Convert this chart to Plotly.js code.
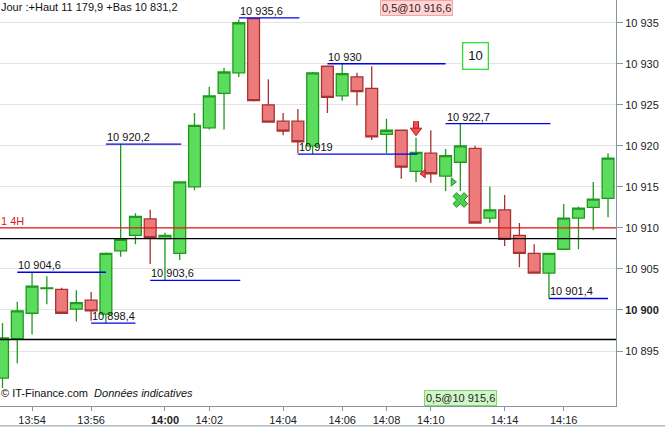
<!DOCTYPE html>
<html>
<head>
<meta charset="utf-8">
<script src="https://cdn.plot.ly/plotly-3.0.1.min.js"></script>
<style>
  html, body { margin: 0; padding: 0; background: #fff; }
  #chart { width: 665px; height: 427px; }
</style>
</head>
<body>
<div id="chart"></div>
<script>
// 30-second candles, numbered along the session
const candle = [0,1,2,3,4,5,6,7,8,9,10,11,12,13,14,15,16,17,18,19,20,
                21,22,23,24,25,26,27,28,29,30,31,32,33,34,35,36,37,38,39,40,41];
const open  = [10891.7,10896.5,10899.6,10902.6,10902.5,10900.1,10901.2,10899.5,10907.2,10909.1,
               10911.1,10908.7,10906.9,10915.0,10922.2,10926.4,10928.9,10935.5,10925.0,10923.0,
               10923.0,10920.0,10929.7,10926.1,10928.4,10927.0,10921.4,10921.9,10916.9,10919.1,
               10916.3,10918.0,10919.7,10911.2,10912.2,10909.1,10906.9,10904.5,10907.4,10911.2,
               10912.5,10913.6];
const high  = [10898.4,10901.0,10904.6,10904.1,10902.7,10902.4,10902.2,10907.0,10920.2,10911.8,
               10912.2,10909.4,10915.7,10924.0,10927.2,10929.5,10935.4,10935.6,10928.1,10924.0,
               10924.5,10929.0,10929.8,10930.0,10928.9,10929.7,10923.3,10922.0,10921.0,10921.9,
               10919.6,10922.7,10920.0,10915.0,10914.0,10910.6,10908.0,10906.9,10912.9,10912.6,
               10915.6,10919.1];
const low   = [10890.5,10893.5,10897.0,10900.7,10899.5,10898.6,10898.7,10898.4,10906.5,10908.0,
               10905.6,10903.6,10906.1,10914.6,10922.0,10922.0,10928.4,10925.4,10922.8,10921.3,
               10919.1,10919.0,10924.0,10925.5,10924.9,10920.7,10919.1,10916.0,10915.6,10915.5,
               10914.5,10914.5,10910.6,10910.6,10907.8,10905.2,10904.4,10901.4,10907.4,10907.4,
               10909.7,10911.3];
const close = [10896.6,10899.9,10902.9,10902.7,10899.6,10900.9,10899.9,10906.9,10908.6,10911.4,
               10908.8,10909.1,10915.6,10922.5,10926.1,10929.0,10935.0,10925.5,10922.9,10921.8,
               10920.5,10928.9,10925.9,10928.8,10926.6,10921.1,10921.9,10917.4,10919.2,10916.6,
               10918.8,10920.0,10910.6,10912.2,10908.6,10906.9,10904.5,10906.9,10911.2,10912.4,
               10913.5,10918.5];

// time labels and the candle they sit under
const timeTickCandle = [2, 6, 11, 14, 19, 23, 26, 29, 34, 38];
const timeTickText   = ['13:54','13:56','<b>14:00</b>','14:02','14:04','14:06','14:08','14:10','14:14','14:16'];

// price scale
const priceTicks = [10895, 10900, 10905, 10910, 10915, 10920, 10925, 10930, 10935];
const priceTickText = ['10 895','<b>10 900</b>','10 905','10 910','10 915','10 920','10 925','10 930','10 935'];

// swing highs / lows, with the candle span of each marker line
const swingLevel = [10904.6, 10920.2, 10935.6, 10930, 10922.7, 10898.4, 10903.6, 10919, 10901.4];
const swingFrom  = [1, 7, 16, 22, 30, 6, 10, 20, 37];
const swingTo    = [7, 12.1, 20.1, 30, 37.1, 9, 16.1, 28.1, 41];

// session reference levels
const pivotLevel = 10910;
const pivotName = '1 4H';
const blackLevels = [10908.7, 10896.4];

// order signals
const sellArrowCandle = [28],  sellArrowPrice = [10922.2];
const sellTickCandle  = [28.5], sellTickPrice = [10916.6];
const buyTickCandle   = [30.5], buyTickPrice  = [10915.6];
const buyCrossCandle  = [31],  buyCrossPrice  = [10913.4];
const sellOrderCandle = 28, sellOrderText = '0,5@10 916,6';
const buyOrderCandle  = 31, buyOrderText  = '0,5@10 915,6';
const counterCandle   = 32, counterText   = '10';

const FONT = 'Liberation Sans, Arial, sans-serif';
const AXIS = '#8696a3';
const SELL_FILL = '#ee5050', SELL_EDGE = '#b02020';

function fr(v) {
  const parts = (Math.round(v * 10) / 10).toString().split('.');
  const whole = parts[0].replace(/\B(?=(\d{3})+(?!\d))/g, ' ');
  return parts[1] ? whole + ',' + parts[1] : whole;
}

const traces = [
  {
    type: 'candlestick',
    x: candle, open: open, high: high, low: low, close: close,
    increasing: { line: { color: '#1f9a1f', width: 1.3 }, fillcolor: '#5cdc5c' },
    decreasing: { line: { color: '#a83232', width: 1.3 }, fillcolor: '#ee7b7b' },
    whiskerwidth: 0,
    hoverinfo: 'skip',
    showlegend: false
  },
  // sell arrow: a thick shaft with a triangular head just below it
  {
    type: 'scatter', mode: 'markers', x: sellArrowCandle, y: sellArrowPrice.map(p => p + 0.3),
    marker: { symbol: 'line-ns', size: 6, line: { color: SELL_EDGE, width: 6 } },
    hoverinfo: 'skip', showlegend: false
  },
  {
    type: 'scatter', mode: 'markers', x: sellArrowCandle, y: sellArrowPrice.map(p => p + 0.3),
    marker: { symbol: 'line-ns', size: 6, line: { color: SELL_FILL, width: 4 } },
    hoverinfo: 'skip', showlegend: false
  },
  {
    type: 'scatter', mode: 'markers', x: sellArrowCandle, y: sellArrowPrice.map(p => p - 0.35),
    marker: { symbol: 'triangle-down', size: 10, color: SELL_FILL, line: { color: SELL_EDGE, width: 1 } },
    hoverinfo: 'skip', showlegend: false
  },
  {
    type: 'scatter', mode: 'markers', x: sellTickCandle, y: sellTickPrice,
    marker: { symbol: 'triangle-left', size: 7, color: SELL_FILL, line: { color: SELL_EDGE, width: 1 } },
    hoverinfo: 'skip', showlegend: false
  },
  {
    type: 'scatter', mode: 'markers', x: buyTickCandle, y: buyTickPrice,
    marker: { symbol: 'triangle-right', size: 7, color: '#4cd04c', line: { color: '#1f8f1f', width: 1 } },
    hoverinfo: 'skip', showlegend: false
  },
  {
    type: 'scatter', mode: 'markers', x: buyCrossCandle, y: buyCrossPrice,
    marker: { symbol: 'x', size: 13, color: '#4cd04c', line: { color: '#1f8f1f', width: 1 } },
    hoverinfo: 'skip', showlegend: false
  }
];

const shapes = [];
const annotations = [];

// horizontal reference lines
shapes.push({ type: 'line', xref: 'paper', x0: 0, x1: 1, yref: 'y', y0: pivotLevel, y1: pivotLevel,
              line: { color: '#e01818', width: 1.2 }, layer: 'above' });
blackLevels.forEach(v => shapes.push({ type: 'line', xref: 'paper', x0: 0, x1: 1, yref: 'y', y0: v, y1: v,
              line: { color: '#000', width: 1.3 }, layer: 'above' }));

// swing marker lines with their labels
swingLevel.forEach((v, k) => {
  shapes.push({ type: 'line', xref: 'x', yref: 'y', x0: swingFrom[k], x1: swingTo[k], y0: v, y1: v,
                line: { color: '#0000ee', width: 1.3 } });
  annotations.push({ xref: 'x', yref: 'y', x: swingFrom[k], y: v, xanchor: 'left', yanchor: 'bottom',
                     text: fr(v), showarrow: false, borderpad: 0,
                     font: { family: FONT, size: 11, color: '#111' } });
});

// frame line under the time axis
shapes.push({ type: 'line', xref: 'paper', yref: 'paper', x0: -0.01, x1: 1.1, y0: -0.049, y1: -0.049,
              line: { color: AXIS, width: 1 } });

annotations.push(
  { xref: 'paper', yref: 'paper', x: 0, y: 0.983, xanchor: 'left', yanchor: 'middle', showarrow: false,
    borderpad: 0, text: 'Jour :+Haut 11 179,9 +Bas 10 831,2', font: { family: FONT, size: 11, color: '#111' } },
  { xref: 'paper', yref: 'y', x: 0, y: pivotLevel, xanchor: 'left', yanchor: 'bottom', showarrow: false,
    borderpad: 0, text: pivotName, font: { family: FONT, size: 11, color: '#e01818' } },
  { xref: 'paper', yref: 'paper', x: 0, y: 0.015, xanchor: 'left', yanchor: 'bottom', showarrow: false,
    borderpad: 0, text: '© IT-Finance.com  <i>Données indicatives</i>', font: { family: FONT, size: 11, color: '#111' } },
  { xref: 'x', yref: 'paper', x: sellOrderCandle, y: 1.0, xanchor: 'center', yanchor: 'top', showarrow: false,
    text: sellOrderText, bgcolor: '#ffd4d4', bordercolor: '#f2a6a6', borderwidth: 1, borderpad: 1,
    font: { family: FONT, size: 11, color: '#3a2020' } },
  { xref: 'x', yref: 'paper', x: buyOrderCandle, y: 0, xanchor: 'center', yanchor: 'bottom', showarrow: false,
    text: buyOrderText, bgcolor: '#d2f5cb', bordercolor: '#7fd870', borderwidth: 1, borderpad: 1,
    font: { family: FONT, size: 11, color: '#1a2a1a' } },
  { xref: 'x', yref: 'paper', x: counterCandle, y: 0.863, xanchor: 'center', yanchor: 'middle', showarrow: false,
    text: counterText, bgcolor: '#fff', bordercolor: '#33dd33', borderwidth: 1.3, borderpad: 5,
    font: { family: FONT, size: 13, color: '#111' } }
);

const layout = {
  width: 665, height: 427,
  margin: { l: 0, r: 49, t: 0, b: 21, pad: 0 },
  paper_bgcolor: '#fff', plot_bgcolor: '#fff',
  font: { family: FONT, size: 11, color: '#222' },
  showlegend: false,
  boxgap: 0.2, boxgroupgap: 0,
  xaxis: {
    range: [-0.17, 41.54], rangeslider: { visible: false },
    tickmode: 'array', tickvals: timeTickCandle, ticktext: timeTickText,
    ticks: 'outside', ticklen: 4, tickcolor: AXIS, tickwidth: 1,
    showline: true, linecolor: AXIS, linewidth: 1,
    showgrid: false, zeroline: false, fixedrange: true,
    tickfont: { family: FONT, size: 11, color: '#222' }
  },
  yaxis: {
    side: 'right', range: [10888.3, 10937.77],
    tickmode: 'array', tickvals: priceTicks, ticktext: priceTickText,
    ticks: 'outside', ticklen: 6, tickcolor: AXIS, tickwidth: 1,
    showline: true, linecolor: AXIS, linewidth: 1,
    showgrid: true, gridcolor: '#e4e4e4', gridwidth: 1, zeroline: false, fixedrange: true,
    tickfont: { family: FONT, size: 11, color: '#222' }
  },
  shapes: shapes,
  annotations: annotations
};

Plotly.newPlot('chart', traces, layout, { displayModeBar: false, staticPlot: true });
</script>
</body>
</html>
